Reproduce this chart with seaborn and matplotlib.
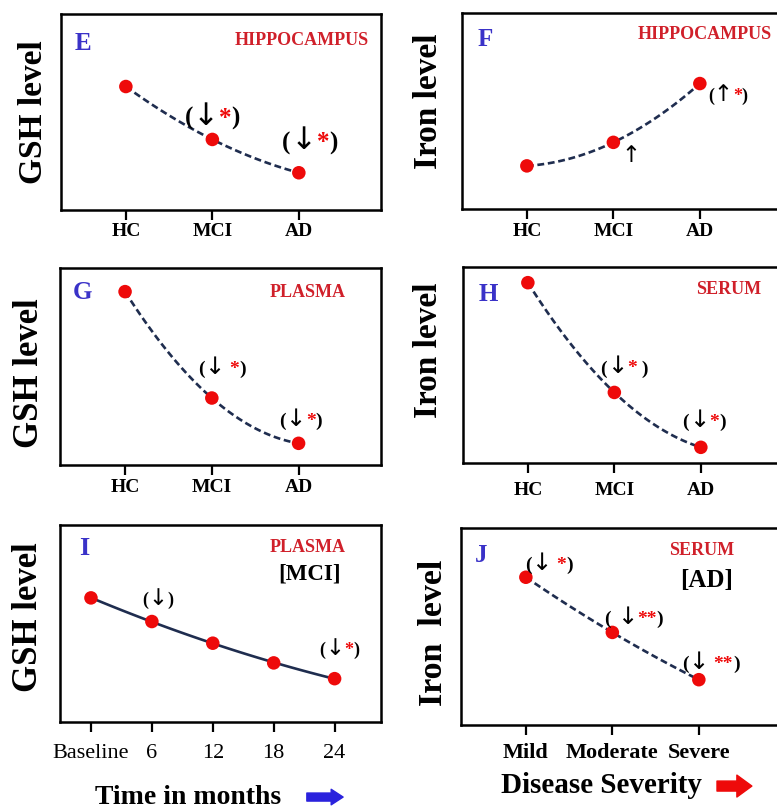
import re
import matplotlib
matplotlib.use("Agg")
import matplotlib.pyplot as plt
import seaborn as sns
import numpy as np
import pandas as pd
from matplotlib.offsetbox import TextArea, HPacker, AnnotationBbox

sns.set_theme(style="white")
plt.rcParams["font.family"] = ["Liberation Serif", "DejaVu Serif"]

# ---------------- data ----------------
groups = ["HC", "MCI", "AD"]
severity = ["Mild", "Moderate", "Severe"]
months = [0, 6, 12, 18, 24]
month_labels = ["Baseline", "6", "12", "18", "24"]

gsh_hippocampus = [63, 36, 19]
iron_hippocampus = [22, 34, 64]
gsh_plasma = [88, 34, 11]
iron_serum = [92, 36, 8]
gsh_plasma_mci = [63, 51, 40, 30, 22]
iron_serum_ad = [75, 47, 23]

sig_e = ["", "(↓*)", "(↓*)"]
sig_f = ["", "↑", "(↑*)"]
sig_g = ["", "(↓ *)", "(↓*)"]
sig_h = ["", "(↓* )", "(↓*)"]
sig_i = ["", "(↓)", "", "", "(↓*)"]
sig_j = ["(↓ *)", "( ↓**)", "(↓ **)"]

# ---------------- style ----------------
W, H = 777, 809
PX = 100 / 72.0
RED = "#ee0a0a"
TXT_RED = "#d0202a"
BLUE = "#3a32c8"
LINE = "#1f2d4f"

fig = plt.figure(figsize=(W / 100, H / 100), dpi=100)


def make_ax(left, top, w, h):
    return fig.add_axes([left / W, 1 - (top + h) / H, w / W, h / H])


def add_sig(ax, xs, ys, marks, offsets, size):
    for x, y, m, off in zip(xs, ys, marks, offsets):
        if not m:
            continue
        runs = re.findall(r"\*+|[↓↑]|[^*↓↑]+", m)
        areas = []
        for r in runs:
            if r in ("↓", "↑"):
                props = dict(color="black", fontsize=size * 1.25, fontweight="normal",
                             family=["DejaVu Sans"])
            elif r.startswith("*"):
                props = dict(color=RED, fontsize=size, fontweight="bold")
            else:
                props = dict(color="black", fontsize=size, fontweight="bold")
            areas.append(TextArea(r, textprops=props))
        box = HPacker(children=areas, align="baseline", pad=0, sep=0)
        ab = AnnotationBbox(box, (x, y), xybox=(off[0] / PX, off[1] / PX),
                            boxcoords="offset points", frameon=False,
                            box_alignment=(0.5, 0.5), pad=0)
        ax.add_artist(ab)


def draw_panel(ax, x, y, ticklabels, dashed, order, xlim, tick_size, tick_weight, pad):
    df = pd.DataFrame({"x": x, "y": y})
    sns.regplot(data=df, x="x", y="y", ax=ax, order=order, ci=None, scatter=False,
                truncate=True,
                line_kws=dict(color=LINE, lw=1.9,
                              ls=(0, (2.6, 1.4)) if dashed else "-"))
    sns.scatterplot(data=df, x="x", y="y", ax=ax, color=RED, s=95, edgecolor="none",
                    zorder=3, legend=False)
    ax.set_xlim(*xlim)
    ax.set_ylim(0, 100)
    ax.set_xticks(x)
    ax.set_xticklabels(ticklabels, fontsize=tick_size, fontweight=tick_weight)
    ax.set_yticks([])
    ax.set_xlabel("")
    ax.tick_params(axis="x", bottom=True, direction="out", length=7, width=1.6,
                   color="black", pad=pad, labelcolor="black")
    for sp in ax.spines.values():
        sp.set_color("black")
        sp.set_linewidth(1.8)
        sp.set_visible(True)
    ax.set_facecolor("white")


def letters(ax, letter, lpos, lsize, region, rpos, ylab, ypos, ysize):
    ax.text(*lpos, letter, transform=ax.transAxes, color=BLUE, fontsize=lsize,
            fontweight="bold", ha="center", va="center")
    ax.text(*rpos, region, transform=ax.transAxes, color=TXT_RED, fontsize=13,
            fontweight="bold", ha="center", va="center")
    ax.set_ylabel(ylab, fontsize=ysize, fontweight="bold", color="black", va="center")
    ax.yaxis.set_label_coords(*ypos)


cat_x = list(range(len(groups)))
cat_lim = (-0.75, 2.95)

# E
axE = make_ax(61, 14, 320, 196)
draw_panel(axE, cat_x, gsh_hippocampus, groups, True, 2, cat_lim, 14, "bold", 2)
letters(axE, "E", (0.069, 0.849), 18, "HIPPOCAMPUS", (0.753, 0.867),
        "GSH level", (-0.0875, 0.5), 24)
add_sig(axE, cat_x, gsh_hippocampus, sig_e, [None, (0, 23), (11, 32)], 18)

# F
axF = make_ax(462, 13, 320, 196)
draw_panel(axF, cat_x, iron_hippocampus, groups, True, 2, cat_lim, 14, "bold", 3)
letters(axF, "F", (0.072, 0.867), 18, "HIPPOCAMPUS", (0.759, 0.888),
        "Iron level", (-0.106, 0.55), 24)
add_sig(axF, cat_x, iron_hippocampus, sig_f, [None, (18, -13), (28, -11)], 13)

# G
axG = make_ax(60, 268, 321, 197)
draw_panel(axG, cat_x, gsh_plasma, groups, True, 2, cat_lim, 14, "bold", 3)
letters(axG, "G", (0.069, 0.876), 18, "PLASMA", (0.772, 0.878),
        "GSH level", (-0.094, 0.467), 25)
add_sig(axG, cat_x, gsh_plasma, sig_g, [None, (10, 31), (2, 24)], 14)

# H
axH = make_ax(463, 267, 320, 196)
draw_panel(axH, cat_x, iron_serum, groups, True, 2, cat_lim, 14, "bold", 7)
letters(axH, "H", (0.078, 0.862), 18, "SERUM", (0.831, 0.883),
        "Iron level", (-0.109, 0.577), 24)
add_sig(axH, cat_x, iron_serum, sig_h, [None, (10, 26), (3, 27)], 14)

# I
axI = make_ax(60, 525, 321, 197)
draw_panel(axI, months, gsh_plasma_mci, month_labels, False, 2, (-3.05, 28.57), 16,
           "normal", 9)
letters(axI, "I", (0.075, 0.883), 19, "PLASMA", (0.773, 0.888),
        "GSH level", (-0.097, 0.533), 25)
axI.text(0.776, 0.751, "[MCI]", transform=axI.transAxes, fontsize=16.5,
         fontweight="bold", ha="center", va="center", color="black")
add_sig(axI, months, gsh_plasma_mci, sig_i,
        [None, (6, 23), None, None, (5, 30)], 13)
axI.set_xlabel("Time in months", fontsize=20, fontweight="bold", color="black",
               va="center")
axI.xaxis.set_label_coords(0.399, -0.381)
axI.annotate("", xy=(0.882, -0.381), xytext=(0.769, -0.381), xycoords="axes fraction",
             textcoords="axes fraction", annotation_clip=False,
             arrowprops=dict(arrowstyle="simple,head_length=0.43,head_width=0.56,tail_width=0.29",
                             mutation_scale=20, color="#2a22dd", shrinkA=0, shrinkB=0))

# J
axJ = make_ax(461, 528, 320, 197)
draw_panel(axJ, cat_x, iron_serum_ad, severity, True, 2, cat_lim, 16, "bold", 6)
letters(axJ, "J", (0.0625, 0.858), 18, "SERUM", (0.753, 0.888),
        "Iron  level", (-0.0875, 0.467), 24.5)
axJ.text(0.768, 0.731, "[AD]", transform=axJ.transAxes, fontsize=18,
         fontweight="bold", ha="center", va="center", color="black")
add_sig(axJ, cat_x, iron_serum_ad, sig_j, [(23, 14), (22, 15), (12, 18)], 14)
axJ.set_xlabel("Disease Severity", fontsize=21, fontweight="bold", color="black",
               va="center")
axJ.xaxis.set_label_coords(0.44, -0.305)
axJ.annotate("", xy=(0.909, -0.31), xytext=(0.8, -0.31), xycoords="axes fraction",
             textcoords="axes fraction", annotation_clip=False,
             arrowprops=dict(arrowstyle="simple,head_length=0.54,head_width=0.79,tail_width=0.36",
                             mutation_scale=20, color=RED, shrinkA=0, shrinkB=0))

fig.savefig("out.png", dpi=100, facecolor="white")
